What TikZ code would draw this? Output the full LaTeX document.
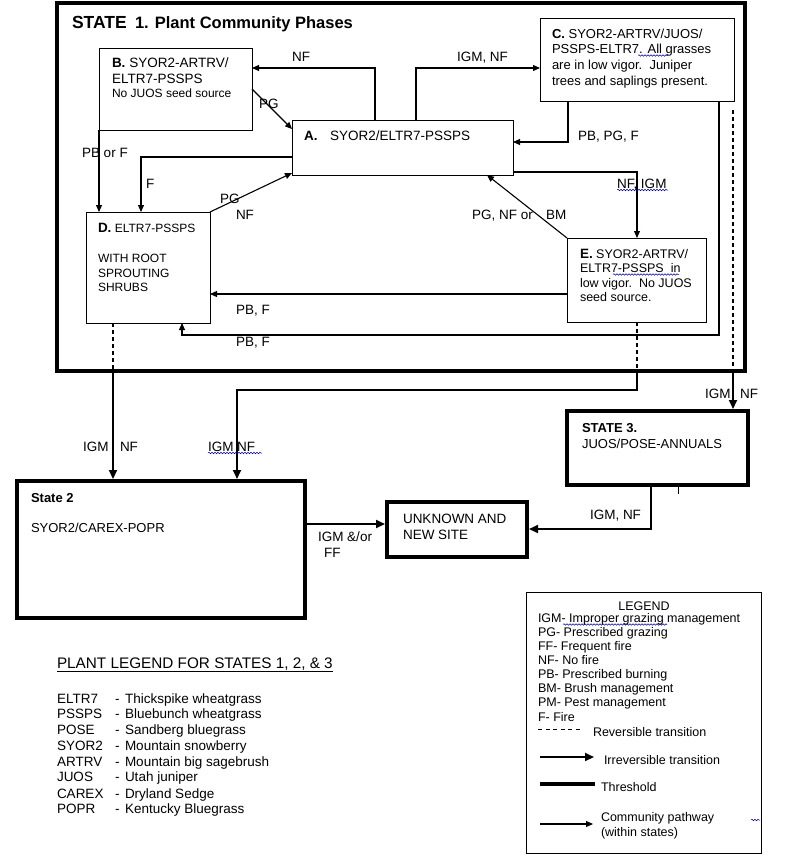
\documentclass[tikz,border=0pt]{standalone}
\usepackage{fontspec}
\setmainfont{Liberation Sans}
\usetikzlibrary{arrows.meta,decorations.pathmorphing,calc}
\tikzset{
  box/.style={draw, line width=1pt, rectangle, inner sep=0pt, outer sep=0pt, anchor=north west},
  thickbox/.style={draw, line width=4pt, rectangle, inner sep=0pt, outer sep=0pt, anchor=north west},
  lab/.style={inner sep=0pt, outer sep=0pt, anchor=base west, font=\fontsize{13.5}{16}\selectfont},
  cfont/.style={font=\fontsize{13}{15}\selectfont},
  efont/.style={font=\fontsize{12.5}{14}\selectfont},
  dfont/.style={font=\fontsize{12}{14}\selectfont},
  lgfont/.style={font=\fontsize{12.5}{14}\selectfont},
  conn/.style={line width=1.1pt, -{Triangle[length=7pt,width=6pt]}},
  trans/.style={line width=2pt, -{Triangle[length=9pt,width=8pt]}},
  rev/.style={line width=1.1pt, dash pattern=on 4pt off 3pt},
  squig/.style={draw=blue!70!black, line width=0.5pt, decorate, decoration={snake, amplitude=0.8pt, segment length=3pt}}
}
\begin{document}
\begin{tikzpicture}[x=1pt,y=-1pt]
\useasboundingbox (0,0) rectangle (800,865);

% ---------- boxes ----------
\node[thickbox, line width=4.5pt, minimum width=688pt, minimum height=368pt] (S1) at (57,3) {};
\node[box, minimum width=153pt, minimum height=82pt] (B) at (99,48) {};
\node[box, minimum width=221pt, minimum height=55pt] (A) at (292,120) {};
\node[box, minimum width=194pt, minimum height=83pt] (C) at (540,18) {};
\node[box, minimum width=124pt, minimum height=111pt] (D) at (86,212) {};
\node[box, minimum width=139pt, minimum height=84pt] (E) at (567,238) {};
\node[thickbox, minimum width=288pt, minimum height=137pt] (S2) at (17,481) {};
\node[thickbox, minimum width=181pt, minimum height=74pt] (S3) at (567,411) {};
\node[thickbox, minimum width=140pt, minimum height=55pt] (U) at (387,502) {};
\node[box, minimum width=235pt, minimum height=261pt] (LG) at (526,592) {};

% ---------- texts in boxes ----------
\node[lab, font=\bfseries\fontsize{17.5}{20}\selectfont] (title1) at (72,28) {STATE};
\node[lab, font=\bfseries\fontsize{16.5}{20}\selectfont] (title2) at (135,28) {1. Plant Community Phases};

\node[lab] (b1) at (112,67) {\textbf{B.} SYOR2-ARTRV/};
\node[lab] (b2) at (112,83) {ELTR7-PSSPS};
\node[lab, dfont] (b3) at (112,97) {No JUOS seed source};

\node[lab] (a1) at (304,140) {\textbf{A.}};
\node[lab] (a2) at (330,140) {SYOR2/ELTR7-PSSPS};

\node[lab, cfont] (c1) at (552,38) {\textbf{C.} SYOR2-ARTRV/JUOS/};
\node[lab, cfont] (c2) at (552,53.5) {PSSPS-ELTR7. All grasses};
\node[lab, cfont] (c3) at (552,69) {are in low vigor.~~Juniper};
\node[lab, cfont] (c4) at (552,85) {trees and saplings present.};

\node[lab, dfont] (d1) at (98,232) {{\bfseries\fontsize{13.5}{16}\selectfont D.} ELTR7-PSSPS};
\node[lab, dfont] (d2) at (98,262) {WITH ROOT};
\node[lab, dfont] (d3) at (98,277) {SPROUTING};
\node[lab, dfont] (d4) at (98,291) {SHRUBS};

\node[lab, efont] (e1) at (580,258) {{\bfseries\fontsize{13.5}{16}\selectfont E.} SYOR2-ARTRV/};
\node[lab, efont] (e2) at (580,272.5) {ELTR7-PSSPS~~in};
\node[lab, efont] (e3) at (580,287) {low vigor.~~No JUOS};
\node[lab, efont] (e4) at (580,301) {seed source.};

\node[lab, font=\bfseries\fontsize{13}{15}\selectfont] (s2a) at (31,502) {State 2};
\node[lab, cfont] (s2b) at (31,532) {SYOR2/CAREX-POPR};

\node[lab, font=\bfseries\fontsize{13}{15}\selectfont] (s3a) at (582,432) {STATE 3.};
\node[lab, cfont] (s3b) at (582,448) {JUOS/POSE-ANNUALS};

\node[lab] (u1) at (403,523) {UNKNOWN AND};
\node[lab] (u2) at (403,539) {NEW SITE};

% ---------- community pathways ----------
\draw[conn] (A.north -| 375,0) -- (375,68) -- (B.east |- 0,68);
\node[lab] (lNF1) at (292,61) {NF};
\draw[conn] (A.north -| 416,0) -- (416,68) -- (C.west |- 0,68);
\node[lab] (lIGM1) at (457,61) {IGM, NF};
\draw[conn] (B.east |- 0,89) -- (A.west |- 0,129);
\node[lab] (lPG1) at (259,108) {PG};
\draw[conn] (C.south -| 568,0) -- (568,142) -- (A.east |- 0,142);
\node[lab] (lPB1) at (578,140) {PB, PG, F};
\draw[conn] (A.east |- 0,172) -- (637,172) -- (E.north -| 637,0);
\node[lab] (lNF2) at (617,188) {NF, IGM};
\draw[conn] (E.north west) -- (A.south -| 487,0);
\node[lab] (lPG2) at (472,219) {PG, NF or};
\node[lab] (lBM) at (546,219) {BM};
\draw[conn] (E.west |- 0,294) -- (D.east |- 0,294);
\node[lab] (lPB2) at (236,314) {PB, F};
\draw[conn] (C.south -| 719,0) -- (719,335) -- (182,335) -- (D.south -| 182,0);
\node[lab] (lPB3) at (236,346) {PB, F};
\draw[conn] (A.west |- 0,157) -- (141,157) -- (D.north -| 141,0);
\node[lab] (lF) at (146,188) {F};
\draw[conn] (B.south -| 99,0) -- (D.north -| 99,0);
\node[lab] (lPBF) at (82,157) {PB or F};
\draw[conn] (D.north east) -- (A.west |- 0,173);
\node[lab] (lPG3) at (220,203) {PG};
\node[lab] (lNF3) at (236,219) {NF};

% ---------- transitions ----------
\coordinate (dx1) at (113,371);
\draw[rev] (D.south -| 113,0) -- (dx1);
\draw[trans, shorten >=2pt] (dx1) -- (S2.north -| 113,0);
\node[lab] (lI1) at (83,451) {IGM};
\node[lab] (lN1) at (120,451) {NF};

\coordinate (ex1) at (637,371);
\draw[rev] (E.south -| 637,0) -- (ex1);
\draw[trans, shorten >=2pt] (ex1) -- (637,390) -- (237,390) -- (S2.north -| 237,0);
\node[lab] (lI2) at (208,451) {IGM NF};

\coordinate (cx0) at (733,110);
\coordinate (cx1) at (733,371);
\draw[rev] (cx0) -- (cx1);
\draw[trans, shorten >=2pt] (cx1) -- (S3.north -| 733,0);
\node[lab] (lI3) at (705,398) {IGM};
\node[lab] (lN3) at (740,398) {NF};

\draw[trans, shorten >=2pt] (S2.east |- 0,524) -- (U.west |- 0,524);
\node[lab] (lIF1) at (318,541) {IGM \&/or};
\node[lab] (lIF2) at (324,557) {FF};

\draw[trans, shorten >=2pt] (S3.south -| 651,0) -- (651,529) -- (U.east |- 0,529);
\node[lab] (lI4) at (590,519) {IGM, NF};
\draw[line width=0.6pt] (S3.south -| 678,0) -- (678,494);

% ---------- spell-check squiggles ----------
\draw[squig] (638,55.5) -- (668,55.5);
\draw[squig] (617,190) -- (668,190);
\draw[squig] (613,274.5) -- (679,274.5);
\draw[squig] (208,453) -- (262,453);
\draw[squig] (563,624.5) -- (667,624.5);
\draw[squig] (751,820) -- (760,820);

% ---------- legend ----------
\node[lab, lgfont, anchor=base] (lg0) at (644,610) {LEGEND};
\node[lab, lgfont] (lg1) at (538,622.5) {IGM- Improper grazing management};
\node[lab, lgfont] (lg2) at (538,636.5) {PG- Prescribed grazing};
\node[lab, lgfont] (lg3) at (538,650.5) {FF- Frequent fire};
\node[lab, lgfont] (lg4) at (538,664.5) {NF- No fire};
\node[lab, lgfont] (lg5) at (538,678.5) {PB- Prescribed burning};
\node[lab, lgfont] (lg6) at (538,692.5) {BM- Brush management};
\node[lab, lgfont] (lg7) at (538,706.5) {PM- Pest management};
\node[lab, lgfont] (lg8) at (538,721) {F- Fire};
\coordinate (lr0) at (538,729); \coordinate (lr1) at (582,729);
\draw[line width=0.8pt, dash pattern=on 4pt off 3.5pt] (lr0) -- (lr1);
\node[lab, lgfont] (lg9) at (593,736) {Reversible transition};
\coordinate (li0) at (540,757); \coordinate (li1) at (594,757);
\draw[trans] (li0) -- (li1);
\node[lab, lgfont] (lg10) at (604,764) {Irreversible transition};
\coordinate (lt0) at (540,784); \coordinate (lt1) at (595,784);
\draw[line width=4pt] (lt0) -- (lt1);
\node[lab, lgfont] (lg11) at (601,791) {Threshold};
\coordinate (lc0) at (540,824); \coordinate (lc1) at (593,824);
\draw[conn] (lc0) -- (lc1);
\node[lab, lgfont] (lg12) at (601,821) {Community pathway};
\node[lab, lgfont] (lg13) at (601,836) {(within states)};

% ---------- plant legend ----------
\node[lab, font=\fontsize{15.3}{18}\selectfont] (pl0) at (57,668) {\underline{PLANT LEGEND FOR STATES 1, 2, \& 3}};
\foreach \c/\n/\y [count=\i] in {ELTR7/Thickspike wheatgrass/703, PSSPS/Bluebunch wheatgrass/718, POSE/Sandberg bluegrass/734, SYOR2/Mountain snowberry/750, ARTRV/Mountain big sagebrush/766, JUOS/Utah juniper/781.5, CAREX/Dryland Sedge/798, POPR/Kentucky Bluegrass/813}{
  \node[lab] (pc\i) at (57,\y) {\c};
  \node[lab] (pd\i) at (115,\y) {-};
  \node[lab] (pn\i) at (125,\y) {\n};
}
\end{tikzpicture}
\end{document}
